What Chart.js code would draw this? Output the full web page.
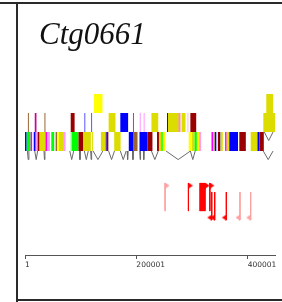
<!DOCTYPE html>
<html><head><meta charset="utf-8">
<script src="https://cdn.jsdelivr.net/npm/chart.js@4"></script>
<style>
html,body{margin:0;padding:0;background:#fff;overflow:hidden;}
#wrap{position:relative;width:282px;height:302px;overflow:hidden;}
#c{position:absolute;left:0;top:0;}
.ln{position:absolute;background:#2a2a2a;}
#title{position:absolute;left:39px;top:18px;font:italic 31px "Liberation Serif",serif;line-height:31px;color:#111;white-space:nowrap;}
</style></head>
<body><div id="wrap">
<canvas id="c" width="282" height="302"></canvas>
<div class="ln" style="left:0;top:2px;width:282px;height:2px"></div>
<div class="ln" style="left:16px;top:2px;width:2px;height:300px"></div>
<div class="ln" style="left:16px;top:299px;width:266px;height:2px"></div>
<div id="title">Ctg0661</div>
</div>
<script>
// ---- data (genomic coordinates, bp) ----
const tickValues = [1, 200001, 400001];
const tickLabels = ['1', '200001', '400001'];

// track 0: tall features
const rowAStart = [124000, 433300];
const rowAEnd   = [139200, 445500];
const rowAType  = ['yellow', 'olive'];

// track 1
const rowBStart = [5200, 17500, 34900, 82100, 106600, 118800, 150200, 171200, 193900, 206100, 213100, 227100, 255100, 256800, 276000, 278600, 281300, 291700, 297000, 428000];
const rowBEnd   = [7000, 20600, 36700, 89100, 108300, 120500, 162500, 185200, 195700, 207900, 214900, 239300, 256800, 276000, 277800, 280400, 288300, 293500, 307500, 449000];
const rowBType  = ['brown','magenta2','brown','darkred','blue2','blue2','olive','blue','magenta','pink','pink','olive','blue','olive','rose','lightpink','olive','lightpink','darkred','olive'];

// track 2
const rowCStart = [0, 3000, 10000, 15700, 19200, 22700, 26200, 36700, 40200, 47200, 55000, 57700, 61100, 69900, 81600, 83900, 96100, 104800, 120500, 136300, 145000, 146700, 160200, 186400, 195100, 205600, 220100, 237100, 240600, 244600, 247600, 294000, 300000, 304500, 308700, 312700, 334900, 337700, 340700, 346400, 348500, 351100, 359400, 362200, 366900, 384900, 405300, 417500, 421000];
const rowCEnd   = [3000, 10000, 12800, 19200, 22700, 26200, 36700, 40200, 44900, 52400, 57700, 61100, 69900, 72900, 83900, 96100, 104800, 118300, 122300, 145000, 146700, 149700, 171700, 195100, 202100, 220100, 228900, 240600, 244600, 247600, 252100, 300000, 304500, 308700, 312700, 316200, 337700, 340700, 343600, 348500, 351100, 355200, 362200, 366900, 382600, 396600, 417500, 421000, 428900];
const rowCType  = ['blue','green','magenta','blue','pink','darkred','olive','magenta','pink','green','brown','yellow','olive','pink','lightgreen','green','darkred','olive','olive','olive','blue','darkred','olive','blue','brown','blue','darkred','darkred','olive','green','yellow','yellow','olive','green','yellow','pink','magenta','olive','blue','darkred','blue','olive','magenta','olive','blue','darkred','olive','blue','darkred'];

// introns (drawn as V below their track)
const intronCStart = [4400, 17500, 34100, 80400, 97800, 106600, 117900, 122300, 150200, 171200, 183400, 193000, 206100, 212600, 227100, 253300, 297000, 428000];
const intronCEnd   = [7000, 22700, 35800, 87400, 99600, 113600, 119700, 139800, 160700, 181700, 185200, 194800, 207500, 214000, 239300, 297000, 305700, 445500];
const intronBStart = [429800];
const intronBEnd   = [445500];

// small gene markers
const fwdPos    = [251600, 293500, 314500, 316200, 318000, 319700, 321500, 323200, 332000];
const fwdStrong = [false, true, true, true, true, true, true, true, true];
const revPos    = [335400, 340700, 361600, 386100, 405300];
const revStrong = [true, true, true, false, false];

// ---- styling ----
const palette = {
  yellow:'#ffff00', olive:'#dcdc00', blue:'#0000ff', blue2:'#4d4dff', darkred:'#990000',
  green:'#00ff00', lightgreen:'#99ff99', magenta:'#ff00ff', magenta2:'#cc0099',
  pink:'#ff99ff', brown:'#996633', rose:'#ff5588', lightpink:'#ffbbcc'
};
const trackA = 0, trackB = 1, trackC = 2;
const intronDepth = 0.45;
const fwdTop = 4.18, fwdBottom = 5.66, fwdFlagY = 4.32;
const revTop = 4.66, revBottom = 6.13, revFlagY = 6.0;
const RED = '#ff0000', LIGHT = '#ffa0a0';

function flag(color, dir){
  const cv = document.createElement('canvas');
  cv.width = 12; cv.height = 6;
  const g = cv.getContext('2d');
  g.fillStyle = color;
  g.beginPath();
  if (dir > 0){ g.moveTo(6,0); g.lineTo(10.5,3); g.lineTo(6,6); }
  else { g.moveTo(6,0); g.lineTo(1.5,3); g.lineTo(6,6); }
  g.closePath(); g.fill();
  return cv;
}

const datasets = [];
function barSet(starts, ends, types, track){
  datasets.push({
    type:'bar', indexAxis:'y', grouped:false,
    data: starts.map((s,i)=>({x:[s, ends[i]], y:track})),
    backgroundColor: types.map(t=>palette[t]),
    borderWidth:0, borderSkipped:false, barThickness:19, inflateAmount:0
  });
}
barSet(rowAStart, rowAEnd, rowAType, trackA);
barSet(rowBStart, rowBEnd, rowBType, trackB);
barSet(rowCStart, rowCEnd, rowCType, trackC);

function lineSet(points, color){
  datasets.push({
    type:'line', indexAxis:'x', data: points, borderColor: color, borderWidth:1,
    pointRadius:0, fill:false, tension:0, spanGaps:false
  });
}
function introns(starts, ends, track){
  starts.forEach((s,i)=>{
    const e = ends[i], top = track + 0.5;
    lineSet([{x:s,y:top},{x:(s+e)/2,y:top+intronDepth},{x:e,y:top}], '#6a6a6a');
  });
}
introns(intronCStart, intronCEnd, trackC);
introns(intronBStart, intronBEnd, trackB);

fwdPos.forEach((p,i)=> lineSet([{x:p,y:fwdTop},{x:p,y:fwdBottom}], fwdStrong[i]?RED:LIGHT));
revPos.forEach((p,i)=> lineSet([{x:p,y:revTop},{x:p,y:revBottom}], revStrong[i]?RED:LIGHT));

function flags(pos, strong, y, dir){
  [true,false].forEach(st=>{
    const pts = pos.filter((p,i)=>strong[i]===st).map(p=>({x:p,y:y}));
    if (!pts.length) return;
    datasets.push({type:'scatter', data:pts, pointStyle: flag(st?RED:LIGHT, dir), pointRadius:6});
  });
}
flags(fwdPos, fwdStrong, fwdFlagY, 1);
flags(revPos, revStrong, revFlagY, -1);

new Chart(document.getElementById('c'), {
  data:{ datasets },
  options:{
    responsive:false, animation:false, events:[],
    layout:{ padding:{ left:25, right:0, top:94, bottom:27 } },
    plugins:{ legend:{display:false}, tooltip:{enabled:false}, title:{display:false} },
    scales:{
      x:{
        type:'linear', position:'bottom', min:1, max:449000, offset:false,
        afterBuildTicks: s => { s.ticks = tickValues.map(v=>({value:v})); },
        afterFit: s => { s.height = 20; s.paddingLeft = 0; s.paddingRight = 0; },
        grid:{ drawOnChartArea:false, drawTicks:true, tickLength:4, color:'#555', offset:false },
        border:{ display:true, color:'#555', width:1 },
        ticks:{ align:'start', autoSkip:false, maxRotation:0, padding:2, color:'#333',
          font:{ family:'DejaVu Sans', size:7.5 },
          callback:(v,i)=> tickLabels[i] }
      },
      y:{ type:'linear', display:false, reverse:true, min:-0.5, max:7.97, offset:false, grid:{offset:false} }
    }
  }
});
</script>
</body></html>
